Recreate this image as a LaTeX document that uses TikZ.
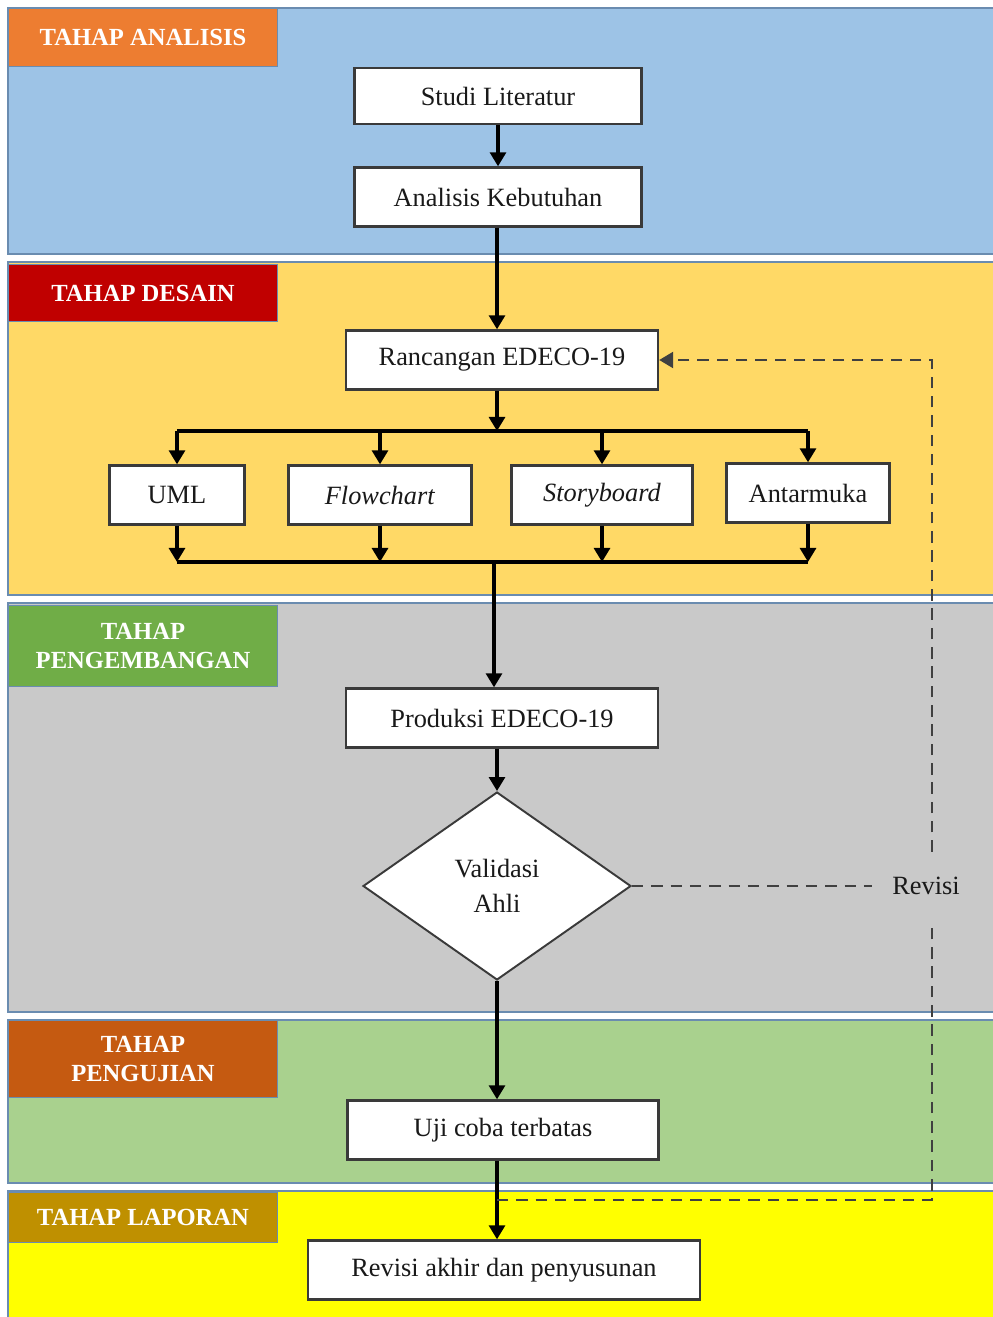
\documentclass[tikz,border=0pt]{standalone}
\usepackage{fontspec}
\setmainfont{Liberation Serif}
\usetikzlibrary{shapes.geometric,arrows.meta}
\definecolor{bandblue}{HTML}{9DC3E6}
\definecolor{bandgold}{HTML}{FFD966}
\definecolor{bandgrey}{HTML}{C9C9C9}
\definecolor{bandgreen}{HTML}{A9D18E}
\definecolor{bandlemon}{HTML}{FFFF00}
\definecolor{tagorange}{HTML}{ED7D31}
\definecolor{tagred}{HTML}{C00000}
\definecolor{taggreen}{HTML}{70AD47}
\definecolor{tagrust}{HTML}{C55A11}
\definecolor{tagochre}{HTML}{BF9000}
\definecolor{bandline}{HTML}{6A8CB0}
\definecolor{boxline}{HTML}{3A3A3A}
\tikzset{
band/.style={draw=bandline, line width=0.8pt},
tag/.style={
  draw=bandline, line width=0.6pt,
  anchor=north west, minimum width=5.38cm, inner sep=0pt,
  align=center, text=white,
  font=\fontsize{14}{16.5}\selectfont\bfseries
},
box/.style={
  draw=boxline, fill=white, line width=1.3pt,
  minimum height=1.18cm, inner sep=0pt, text=black!90,
  font=\fontsize{15}{18}\selectfont
},
arr/.style={line width=2.2pt, -{Triangle[width=9pt,length=8pt]}},
bar/.style={line width=2.2pt},
dashline/.style={line width=1.6pt, draw=black!75, dash pattern=on 6.5pt off 4.5pt}
}

\begin{document}
\begin{tikzpicture}[x=0.02cm,y=-0.02cm]
\useasboundingbox (0,0) rectangle (992,1317);
% the stage bands
\foreach \top/\bot/\col in {8/254/bandblue,262/595/bandgold,603/1012/bandgrey,1020/1183/bandgreen,1191/1330/bandlemon}
{
  \draw[band, fill=\col] (8,\top) rectangle (995,\bot);
}
% the stage tags
\foreach [count=\i] \y/\h/\col/\txt in {8/1.16/tagorange/TAHAP ANALISIS,264/1.14/tagred/TAHAP DESAIN,605/1.62/taggreen/TAHAP\\PENGEMBANGAN,1020/1.54/tagrust/TAHAP\\PENGUJIAN,1192/1.0/tagochre/TAHAP LAPORAN}
{
  \node[tag, fill=\col, minimum height=\h cm] (tag\i) at (8,\y) {\txt};
}
% the steps
\node[box, minimum width=5.74cm, minimum height=1.12cm] (studi) at (498,96) {Studi Literatur};
\node[box, minimum width=5.74cm] (analisis) at (498,197) {Analisis Kebutuhan};
\node[box, minimum width=6.24cm] (rancangan) at (502,360) {Rancangan EDECO-19};
\node[box, minimum width=2.7cm] (uml) at (177,495) {UML};
\node[box, minimum width=3.66cm] (flow) at (380,495) {\textit{Flowchart}};
\node[box, minimum width=3.62cm] (story) at (602,495) {\textit{Storyboard}};
\node[box, minimum width=3.26cm] (antar) at (808,493) {Antarmuka};
\node[box, minimum width=6.24cm] (produksi) at (502,718) {Produksi EDECO-19};
\node[diamond, draw=boxline, fill=white, line width=1.1pt, minimum width=5.36cm, minimum height=3.76cm,
  inner sep=0pt, align=center, text=black!90, font=\fontsize{15}{20}\selectfont] (validasi) at (497,886) {Validasi\\Ahli};
\node[box, minimum width=6.22cm] (uji) at (503,1130) {Uji coba terbatas};
\node[box, minimum width=7.84cm] (akhir) at (504,1270) {Revisi akhir dan penyusunan};
\node[inner xsep=.4cm, inner ysep=.5cm, text=black!90, font=\fontsize{15}{18}\selectfont] (revisi) at (926,886) {Revisi};
\coordinate (split) at (497,431);
\coordinate (join) at (494,562);
\coordinate (back) at (497,1200);
\coordinate (corner) at (932,1200);
% the flow
\draw[arr] (studi.south) -- (analisis.north);
\draw[arr] (analisis.south -| split) -- (rancangan.north -| split);
\draw[arr] (rancangan.south -| split) -- (split);
\draw[bar] (split -| uml) -- (split -| antar);
\draw[bar] (join -| uml) -- (join -| antar);
\foreach \b in {uml,flow,story,antar}
{
  \draw[arr] (split -| \b) -- (\b.north);
  \draw[arr] (\b.south) -- (join -| \b);
}
\draw[arr] (join) -- (join |- produksi.north);
\draw[arr] (produksi.south -| validasi) -- (validasi.north);
\draw[arr] (validasi.south) -- (validasi.south |- uji.north);
\draw[arr] (uji.south -| back) -- (akhir.north -| back);
% the revision loop
\draw[dashline] (validasi.east) -- (revisi.west);
\draw[dashline] (back) -- (corner) -- (corner |- revisi.south);
\draw[dashline, -{Triangle[width=9pt,length=8pt]}] (corner |- revisi.north) |- (rancangan.east);
\end{tikzpicture}
\end{document}
